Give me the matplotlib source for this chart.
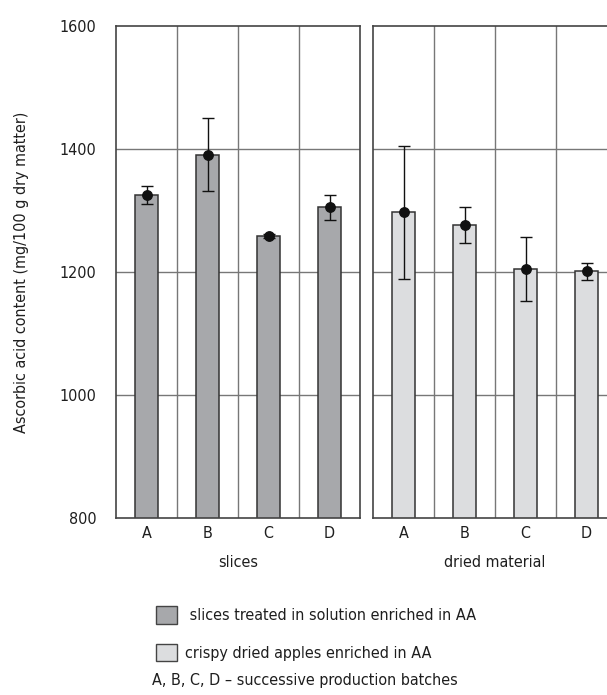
import numpy as np
import matplotlib
matplotlib.use("Agg")
import matplotlib.pyplot as plt
from matplotlib.patches import Patch

plt.rcParams['font.family'] = ['DejaVu Sans']
plt.rcParams['font.stretch'] = 'condensed'

# data
batches = ['A', 'B', 'C', 'D']
groups = ['slices', 'dried material']
slices_vals = [1325, 1391, 1258, 1305]
slices_err = [15, 60, 3, 20]
dried_vals = [1297, 1276, 1205, 1201]
dried_err = [108, 29, 52, 14]
y_ticks = [800, 1000, 1200, 1400, 1600]
legend_labels = [' slices treated in solution enriched in AA',
                 'crispy dried apples enriched in AA']
note = 'A, B, C, D \u2013 successive production batches'

dark = '#a7a8ab'
light = '#dcdddf'
grid_col = '#777777'
txt = '#1e1e1e'

fig = plt.figure(figsize=(6.07, 6.95), dpi=100)
W, H = 607, 695

def px_axes(x0, y0, w, h):
    return fig.add_axes([x0 / W, 1 - (y0 + h) / H, w / W, h / H])

ax1 = px_axes(116, 26, 244, 492)
ax2 = px_axes(373, 26, 244, 492)

x = np.arange(len(batches))
for ax, vals, errs, col, name in [(ax1, slices_vals, slices_err, dark, groups[0]),
                                  (ax2, dried_vals, dried_err, light, groups[1])]:
    ax.set_xlim(-0.5, 3.5)
    ax.set_ylim(800, 1600)
    for gx in [0.5, 1.5, 2.5]:
        ax.axvline(gx, color=grid_col, lw=1.0, zorder=0)
    for gy in [1000, 1200, 1400]:
        ax.axhline(gy, color=grid_col, lw=1.0, zorder=0)
    ax.bar(x, vals, width=0.39, color=col, edgecolor='#333333', linewidth=1.1, zorder=2)
    ax.errorbar(x, vals, yerr=errs, fmt='o', color='#111111', ms=6.8,
                capsize=4.5, elinewidth=1.0, capthick=1.0, zorder=3)
    ax.set_xticks(x)
    ax.set_xticklabels(batches, fontsize=11.5, color=txt)
    ax.tick_params(axis='x', length=0, pad=6)
    ax.set_xlabel(name, fontsize=11.5, color=txt, labelpad=10)
    for s in ax.spines.values():
        s.set_color('#444444')
        s.set_linewidth(1.2)

ax1.set_yticks(y_ticks)
ax1.set_yticklabels([str(v) for v in y_ticks], fontsize=11.5, color=txt)
ax1.tick_params(axis='y', length=0, pad=14)
ax1.set_ylabel('Ascorbic acid content (mg/100 g dry matter)', fontsize=11.5,
               color=txt, labelpad=22)
ax2.set_yticks([])

# legend
handles = [Patch(facecolor=dark, edgecolor='#444444'),
           Patch(facecolor=light, edgecolor='#444444')]
leg = fig.legend(handles, legend_labels, loc='upper left',
                 bbox_to_anchor=(142 / W, 1 - 592 / H), frameon=False,
                 fontsize=11.5, handlelength=1.3, handleheight=1.3,
                 labelspacing=1.25, handletextpad=0.5)
for t in leg.get_texts():
    t.set_color(txt)
fig.text(152 / W, 1 - 681 / H, note, fontsize=11.5, color=txt, va='center')

fig.savefig('out.png', dpi=100)
